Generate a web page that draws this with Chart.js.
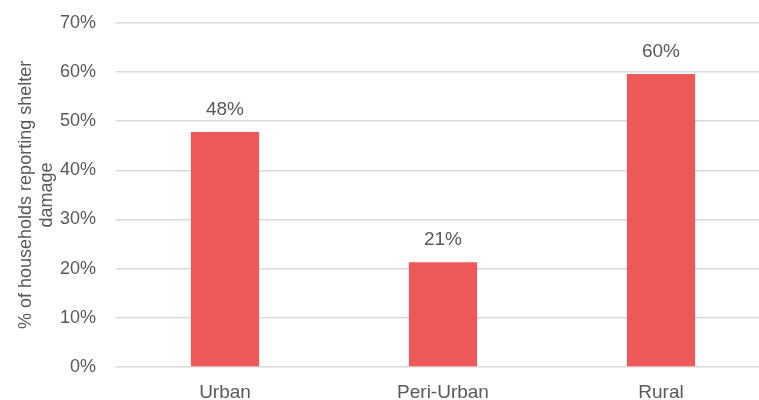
<!DOCTYPE html>
<html>
<head>
<meta charset="utf-8">
<script src="https://cdn.jsdelivr.net/npm/chart.js@4/dist/chart.umd.min.js"></script>
<style>
  html, body { margin: 0; padding: 0; background: #fff; overflow: hidden; }
  #wrap { width: 770px; height: 408px; margin-top: -8px; position: relative; }
</style>
</head>
<body>
<div id="wrap"><canvas id="chart"></canvas></div>
<script>
  'use strict';

  // Data
  var categories = ['Urban', 'Peri-Urban', 'Rural'];
  var shelterDamage = [47.8, 21.3, 59.6];
  var valueLabels = ['48%', '21%', '60%'];

  var FONT = "'Liberation Sans Narrow', 'Arial Narrow', 'Liberation Sans', Arial, sans-serif";
  var TEXT = '#595959';

  // Draw the value above each bar (no datalabels plugin offline)
  var barLabels = {
    id: 'barLabels',
    afterDatasetsDraw: function (chart) {
      var ctx = chart.ctx;
      var meta = chart.getDatasetMeta(0);
      ctx.save();
      ctx.font = '19px ' + FONT;
      ctx.fillStyle = TEXT;
      ctx.textAlign = 'center';
      ctx.textBaseline = 'bottom';
      meta.data.forEach(function (bar, i) {
        ctx.fillText(valueLabels[i], bar.x, bar.y - 13);
      });
      ctx.restore();
    }
  };

  new Chart(document.getElementById('chart'), {
    type: 'bar',
    data: {
      labels: categories,
      datasets: [{
        data: shelterDamage,
        backgroundColor: '#EF5858',
        borderWidth: 0,
        barPercentage: 1,
        categoryPercentage: 0.313
      }]
    },
    options: {
      responsive: true,
      maintainAspectRatio: false,
      animation: false,
      layout: { padding: 0 },
      plugins: {
        legend: { display: false },
        tooltip: { enabled: false }
      },
      scales: {
        x: {
          grid: { display: false, drawTicks: false },
          border: { display: false },
          ticks: { color: TEXT, font: { family: FONT, size: 19 }, padding: 14 },
          afterFit: function (scale) { scale.height = 33; }
        },
        y: {
          min: 0,
          max: 70,
          grid: { color: '#D9D9D9', lineWidth: 1.5, drawTicks: false },
          border: { display: false },
          ticks: {
            stepSize: 10,
            color: TEXT,
            font: { family: FONT, size: 18 },
            padding: 20,
            callback: function (v) { return v + '%'; }
          },
          title: {
            display: true,
            text: ['% of households reporting shelter', 'damage'],
            color: TEXT,
            font: { family: FONT, size: 18 },
            padding: { top: 15, bottom: 0 }
          },
          afterFit: function (scale) { scale.width = 116; }
        }
      }
    },
    plugins: [barLabels]
  });
</script>
</body>
</html>
